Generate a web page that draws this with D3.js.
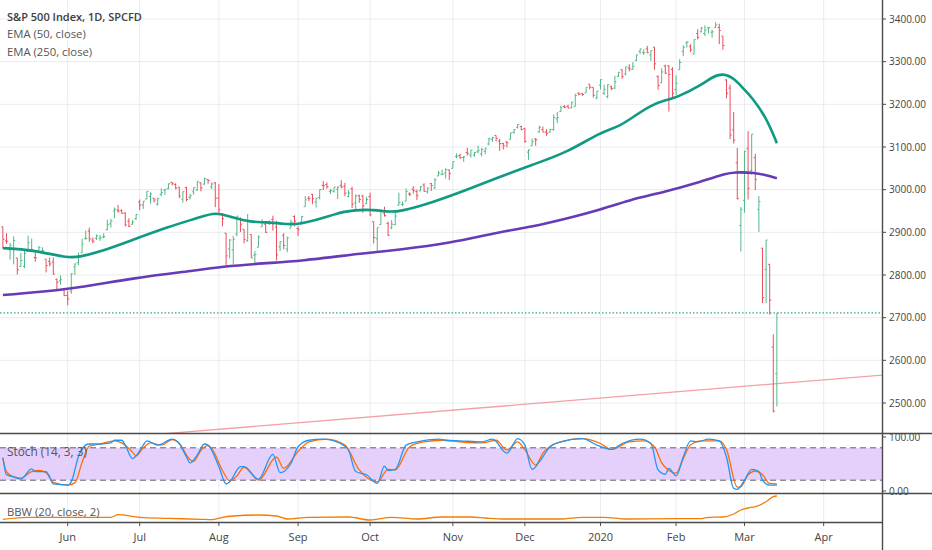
<!DOCTYPE html>
<html>
<head>
<meta charset="utf-8">
<script src="https://cdn.jsdelivr.net/npm/d3@7"></script>
<style>
  body { margin: 0; background: #fff; }
  svg { display: block; font-family: "Open Sans", sans-serif; }
</style>
</head>
<body>
<svg id="chart" width="932" height="550"></svg>
<script>
// daily bars 7 May 2019 .. 13 Mar 2020, [open, high, low, close]
const ohlc = [
  // May
  [2913,2913,2862,2884],[2880,2898,2873,2879],[2859,2875,2836,2870],[2863,2891,2825,2881],
  [2840,2840,2801,2812],[2820,2852,2820,2834],[2820,2858,2816,2851],[2855,2892,2855,2876],
  [2858,2885,2854,2860],[2841,2853,2831,2840],[2855,2868,2855,2864],[2856,2865,2851,2857],
  [2837,2837,2806,2822],[2832,2841,2820,2826],[2830,2841,2801,2802],[2790,2792,2767,2783],
  [2786,2799,2777,2789],[2767,2768,2750,2752],
  // Jun
  [2752,2763,2729,2744],[2762,2804,2756,2803],[2819,2827,2800,2826],[2829,2852,2823,2843],
  [2852,2885,2852,2873],[2885,2904,2883,2886],[2903,2911,2878,2885],[2882,2888,2874,2879],
  [2886,2895,2882,2892],[2886,2894,2880,2887],[2889,2898,2886,2890],[2906,2930,2905,2918],
  [2920,2932,2911,2926],[2950,2958,2933,2954],[2952,2964,2946,2950],[2951,2954,2944,2945],
  [2945,2947,2914,2917],[2926,2933,2912,2914],[2919,2929,2918,2924],[2932,2943,2929,2942],
  // Jul
  [2971,2977,2952,2964],[2964,2973,2955,2973],[2978,2996,2978,2996],[2984,2994,2967,2990],
  [2980,2980,2970,2976],[2966,2981,2963,2979],[2989,3003,2985,2993],[2999,3002,2988,3000],
  [3003,3014,3001,3014],[3017,3018,3010,3014],[3012,3015,3001,3004],[3006,3006,2980,2985],
  [2978,2996,2970,2995],[3005,3007,2973,2977],[2982,2990,2977,2986],[2995,3005,2988,3005],
  [2999,3019,2997,3019],[3016,3017,2996,3004],[3013,3028,3012,3026],[3024,3025,3014,3021],
  [3007,3017,3001,3013],[3016,3018,2959,2980],
  // Aug
  [2980,3013,2945,2953],[2943,2945,2914,2932],[2898,2898,2823,2845],[2861,2884,2839,2882],
  [2859,2892,2825,2884],[2896,2938,2891,2938],[2930,2935,2901,2919],[2907,2907,2874,2883],
  [2880,2943,2878,2926],[2895,2895,2840,2840],[2846,2856,2826,2848],[2865,2893,2865,2889],
  [2913,2931,2913,2924],[2919,2923,2899,2900],[2922,2928,2917,2924],[2930,2939,2904,2922],
  [2912,2927,2834,2847],[2866,2879,2856,2878],[2893,2898,2860,2869],[2861,2890,2853,2887],
  [2910,2930,2910,2924],[2937,2940,2914,2926],
  // Sep
  [2909,2914,2891,2906],[2924,2938,2921,2937],[2960,2985,2960,2976],[2980,2985,2973,2979],
  [2989,2990,2966,2979],[2971,2980,2958,2980],[2982,3000,2977,3000],[3010,3020,2999,3009],
  [3012,3017,3002,3007],[2996,3002,2990,2998],[2996,3006,2993,3006],[3001,3008,2978,3006],
  [3010,3022,3003,3006],[3008,3016,2985,2992],[2984,2999,2982,2992],[3002,3007,2957,2966],
  [2969,2989,2952,2985],[2986,2988,2969,2977],[2985,2988,2946,2962],[2967,2983,2967,2977],
  // Oct
  [2984,2993,2938,2941],[2925,2925,2874,2888],[2885,2911,2856,2911],[2918,2953,2918,2952],
  [2945,2960,2937,2939],[2921,2925,2892,2893],[2911,2929,2907,2919],[2918,2948,2917,2938],
  [2964,2993,2963,2970],[2965,2972,2962,2966],[2973,3003,2973,2996],[2990,2994,2985,2989],
  [3001,3008,2991,2998],[2996,3000,2976,2986],[2997,3008,2997,3007],[3011,3015,2995,2996],
  [2995,3005,2991,3004],[3014,3016,2997,3010],[3004,3027,3002,3023],[3032,3044,3032,3039],
  [3036,3047,3034,3036],[3039,3050,3026,3047],[3046,3047,3023,3038],
  // Nov
  [3050,3066,3050,3066],[3078,3085,3074,3078],[3080,3084,3072,3075],[3075,3079,3065,3077],
  [3087,3098,3080,3085],[3081,3093,3075,3093],[3081,3088,3077,3087],[3089,3103,3085,3092],
  [3084,3098,3078,3094],[3090,3098,3083,3097],[3107,3121,3104,3120],[3118,3124,3112,3122],
  [3127,3127,3113,3120],[3114,3119,3091,3108],[3108,3110,3094,3103],[3112,3113,3099,3110],
  [3118,3133,3118,3133],[3134,3142,3131,3141],[3146,3154,3143,3153],[3148,3150,3139,3141],
  // Dec
  [3143,3145,3110,3113],[3088,3094,3070,3093],[3103,3120,3103,3113],[3119,3120,3103,3117],
  [3135,3150,3134,3146],[3141,3148,3135,3135],[3135,3142,3126,3132],[3135,3143,3133,3141],
  [3141,3176,3138,3169],[3166,3182,3156,3169],[3183,3197,3183,3192],[3195,3198,3191,3193],
  [3195,3199,3191,3191],[3192,3206,3191,3205],[3195,3225,3195,3221],[3226,3228,3221,3224],
  [3225,3226,3220,3223],[3227,3240,3227,3240],[3247,3247,3235,3240],[3240,3240,3216,3221],
  [3215,3231,3212,3231],
  // Jan
  [3245,3258,3235,3258],[3226,3246,3222,3235],[3218,3247,3214,3246],[3241,3244,3233,3237],
  [3238,3267,3236,3253],[3266,3275,3264,3275],[3281,3282,3260,3265],[3271,3288,3268,3288],
  [3285,3294,3277,3283],[3282,3299,3281,3289],[3303,3316,3302,3316],[3324,3330,3318,3330],
  [3321,3329,3316,3321],[3330,3337,3320,3321],[3316,3326,3302,3326],[3334,3334,3281,3295],
  [3265,3268,3234,3244],[3250,3285,3250,3276],[3290,3293,3271,3273],[3290,3292,3183,3270],
  [3282,3287,3214,3226],
  // Feb
  [3235,3268,3222,3249],[3281,3306,3281,3298],[3324,3338,3313,3334],[3344,3348,3333,3346],
  [3335,3341,3322,3328],[3318,3352,3317,3352],[3366,3376,3352,3357],[3370,3381,3369,3379],
  [3366,3385,3360,3374],[3379,3381,3366,3380],[3369,3375,3356,3370],[3380,3393,3379,3386],
  [3380,3389,3341,3373],[3360,3360,3328,3338],[3257,3259,3214,3226],[3238,3246,3118,3128],
  [3140,3182,3108,3116],[3063,3098,2977,2979],[2916,2959,2855,2954],
  // Mar
  [2975,3091,2946,3090],[3096,3137,2977,3003],[3045,3130,3035,3130],[3075,3084,2999,3024],
  [2954,2985,2901,2972],[2863,2863,2734,2747],[2813,2882,2734,2882],[2825,2825,2707,2741],
  [2631,2661,2478,2481],[2569,2711,2492,2711]
];

// month labels and the bar index they sit on (Apr is in the empty space on the right)
const monthLabels = ["Jun", "Jul", "Aug", "Sep", "Oct", "Nov", "Dec", "2020", "Feb", "Mar", "Apr"];
const monthBars = [18, 38, 60, 82, 102, 125, 145, 166, 187, 206, 228];
const priceTicks = [2500, 2600, 2700, 2800, 2900, 3000, 3100, 3200, 3300, 3400];

// [bar index, value]
const ema50 = [[0,2863],[8,2859],[18,2840],[21,2842],[27,2854],[36,2882],[46,2913],[55,2936],
  [59,2948],[64,2934],[69,2924],[73,2924],[78,2920],[82,2917],[92,2941],[94,2948],[101,2955],
  [107,2948],[110,2948],[119,2969],[129,3000],[138,3030],[147,3058],[157,3088],[166,3135],
  [171,3147],[175,3170],[180,3198],[184,3210],[187,3215],[194,3245],[197,3264],[200,3273],
  [203,3262],[206,3234],[208,3217],[212,3170],[215,3109]];
const ema250 = [[0,2753],[18,2765],[36,2793],[55,2812],[60,2819],[73,2828],[82,2832],[101,2852],
  [110,2859],[124,2874],[138,2901],[147,2913],[157,2933],[166,2953],[174,2976],[184,2995],
  [194,3019],[201,3038],[203,3041],[209,3040],[212,3034],[215,3027]];
const stochK = [[0,62],[1,30],[3,26],[5,22],[8,41],[9,36],[12,36],[13,26],[14,13],[18,11],[19,17],
  [21,64],[23,85],[24,87],[27,87],[30,89],[31,94],[33,94],[34,85],[36,60],[37,65],[39,85],[40,93],
  [43,85],[44,87],[47,96],[49,88],[51,63],[52,52],[54,67],[56,87],[57,85],[60,45],[62,13],[63,17],
  [66,45],[67,45],[71,22],[75,68],[77,34],[80,51],[82,82],[85,94],[89,96],[95,83],[96,76],[98,36],
  [101,30],[104,14],[106,46],[107,38],[109,40],[112,85],[115,91],[121,96],[123,94],[127,93],
  [133,91],[136,96],[140,70],[143,97],[145,85],[147,40],[149,54],[152,82],[155,91],[161,97],
  [165,85],[169,77],[172,88],[177,96],[180,88],[182,39],[184,31],[185,42],[187,28],[189,63],
  [191,93],[193,91],[196,96],[199,93],[201,63],[203,5],[204,3],[206,20],[208,40],[210,36],
  [211,20],[213,11],[215,11]];
const stochD = [[0,61],[1,36],[3,26],[5,24],[8,36],[10,38],[12,34],[14,16],[18,11],[20,15],
  [22,53],[24,83],[27,87],[31,93],[33,89],[36,72],[37,65],[39,80],[41,89],[44,85],[47,95],
  [49,88],[52,58],[53,55],[55,75],[57,84],[58,79],[61,38],[63,19],[65,28],[67,44],[71,20],
  [76,63],[78,42],[82,73],[85,91],[90,96],[95,85],[99,39],[104,17],[107,40],[109,39],[113,82],
  [117,91],[122,94],[127,91],[133,89],[137,94],[140,76],[143,91],[145,76],[148,48],[150,70],
  [154,89],[161,97],[166,88],[169,77],[174,91],[178,93],[181,82],[183,52],[185,38],[187,33],
  [189,60],[191,85],[194,93],[199,93],[201,77],[204,7],[205,8],[207,30],[209,37],[211,30],
  [213,14],[215,13]];
const bbw = [[0,0.037],[7,0.057],[30,0.057],[32,0.083],[38,0.057],[46,0.047],[55,0.037],
  [58,0.033],[61,0.057],[64,0.07],[71,0.08],[76,0.07],[79,0.04],[85,0.057],[96,0.06],[102,0.03],
  [108,0.057],[115,0.04],[122,0.06],[130,0.06],[134,0.05],[139,0.04],[155,0.04],[161,0.057],
  [167,0.057],[173,0.04],[187,0.043],[194,0.043],[196,0.057],[200,0.06],[203,0.09],[205,0.13],
  [207,0.15],[209,0.163],[212,0.213],[214,0.263],[215,0.27]];
// hand-drawn trend line, two anchors [bar index, price]
const trendLine = [[0, 2397], [245, 2566]];

const upColor = "#53b987", downColor = "#eb4d5c";
const plotRight = 882;
const mainBottom = 433, stochTop = 434, stochBottom = 493, bbwTop = 494, bbwBottom = 522;

const svg = d3.select("#chart");

const x = d3.scaleLinear().domain([-0.8, 244.2]).range([0, plotRight]);
const y = d3.scaleLinear().domain([2500, 3400]).range([403, 19]);
const ys = d3.scaleLinear().domain([0, 100]).range([491, 437]);
const yb = d3.scaleLinear().domain([0, 0.3]).range([523, 493]);

const defs = svg.append("defs");
function clip(id, y0, y1) {
  defs.append("clipPath").attr("id", id)
    .append("rect").attr("x", 0).attr("y", y0).attr("width", plotRight).attr("height", y1 - y0);
}
clip("clipMain", 0, mainBottom);
clip("clipStoch", stochTop, stochBottom);
clip("clipBbw", bbwTop, bbwBottom);

// grid
svg.append("g").selectAll("line").data(monthBars).join("line")
  .attr("x1", d => x(d)).attr("x2", d => x(d))
  .attr("y1", 0).attr("y2", bbwBottom)
  .attr("stroke", "#e8ebef").attr("stroke-width", 1);
svg.append("g").selectAll("line").data(priceTicks).join("line")
  .attr("x1", 0).attr("x2", plotRight)
  .attr("y1", d => y(d)).attr("y2", d => y(d))
  .attr("stroke", "#e8ebef").attr("stroke-width", 1);

// ---- main pane
const main = svg.append("g").attr("clip-path", "url(#clipMain)");

main.append("path")
  .attr("d", d3.line().x(d => x(d[0])).y(d => y(d[1]))(trendLine))
  .attr("fill", "none").attr("stroke", "#f4a0a4").attr("stroke-width", 1.3);

const lastClose = ohlc[ohlc.length - 1][3];
main.append("line")
  .attr("x1", 0).attr("x2", plotRight)
  .attr("y1", y(lastClose)).attr("y2", y(lastClose))
  .attr("stroke", "#3aa58c").attr("stroke-width", 1.2).attr("stroke-dasharray", "1.5,2");

main.append("g").selectAll("path").data(ohlc).join("path")
  .attr("d", (d, i) => {
    const cx = x(i);
    return `M${cx},${y(d[1])}V${y(d[2])}M${cx - 1.6},${y(d[0])}H${cx}M${cx},${y(d[3])}H${cx + 1.6}`;
  })
  .attr("fill", "none")
  .attr("stroke", d => d[3] >= d[0] ? upColor : downColor)
  .attr("stroke-width", 1);

// moving averages: smooth basis curve through the read points
const emaLine = d3.line().x(d => x(d[0])).y(d => y(d[1])).curve(d3.curveBasis);
main.append("path").attr("d", emaLine(ema250))
  .attr("fill", "none").attr("stroke", "#673ab7").attr("stroke-width", 2.6);
main.append("path").attr("d", emaLine(ema50))
  .attr("fill", "none").attr("stroke", "#0f9a82").attr("stroke-width", 2.6);

// legend text
const legend = svg.append("g").attr("fill", "#555");
legend.append("text").attr("x", 7).attr("y", 21)
  .attr("font-size", 11).attr("font-weight", 600).attr("fill", "#3d3d3d")
  .text("S&P 500 Index, 1D, SPCFD");
legend.append("text").attr("x", 7).attr("y", 38).attr("font-size", 11.3).text("EMA (50, close)");
legend.append("text").attr("x", 7).attr("y", 56).attr("font-size", 11.3).text("EMA (250, close)");

// ---- stochastic pane
const lineIdx = d3.line().x(d => x(d[0])).curve(d3.curveMonotoneX);
const stoch = svg.append("g").attr("clip-path", "url(#clipStoch)");
stoch.append("rect")
  .attr("x", 0).attr("width", plotRight)
  .attr("y", ys(80)).attr("height", ys(20) - ys(80))
  .attr("fill", "#e5d0fb");
stoch.append("g").selectAll("line").data([80, 20]).join("line")
  .attr("x1", 0).attr("x2", plotRight)
  .attr("y1", d => ys(d)).attr("y2", d => ys(d))
  .attr("stroke", "#5d606b").attr("stroke-width", 1).attr("stroke-dasharray", "6,4");
stoch.append("path").attr("d", lineIdx.y(d => ys(d[1]))(stochD))
  .attr("fill", "none").attr("stroke", "#ff6d00").attr("stroke-width", 1.3);
stoch.append("path").attr("d", lineIdx.y(d => ys(d[1]))(stochK))
  .attr("fill", "none").attr("stroke", "#2196f3").attr("stroke-width", 1.3);
svg.append("text").attr("x", 7).attr("y", 456).attr("font-size", 11.8).attr("fill", "#555")
  .text("Stoch (14, 3, 3)");

// ---- BBW pane
const bb = svg.append("g").attr("clip-path", "url(#clipBbw)");
bb.append("path").attr("d", lineIdx.y(d => yb(d[1]))(bbw))
  .attr("fill", "none").attr("stroke", "#f57c00").attr("stroke-width", 1.3);
svg.append("text").attr("x", 7).attr("y", 516).attr("font-size", 11.3).attr("fill", "#555")
  .text("BBW (20, close, 2)");

// ---- right price axis
const axisColor = "#4a4a4a";
const priceAxis = svg.append("g");
priceAxis.selectAll("line").data(priceTicks).join("line")
  .attr("x1", plotRight).attr("x2", plotRight + 4)
  .attr("y1", d => y(d)).attr("y2", d => y(d))
  .attr("stroke", axisColor);
priceAxis.selectAll("text").data(priceTicks).join("text")
  .attr("x", plotRight + 7).attr("y", d => y(d)).attr("dy", "0.35em")
  .attr("font-size", 10).attr("fill", "#444")
  .text(d => d3.format(".2f")(d));

const stochAxis = svg.append("g");
stochAxis.selectAll("line").data([100, 0]).join("line")
  .attr("x1", plotRight).attr("x2", plotRight + 4)
  .attr("y1", d => ys(d)).attr("y2", d => ys(d))
  .attr("stroke", axisColor);
stochAxis.selectAll("text").data([100, 0]).join("text")
  .attr("x", plotRight + 7).attr("y", d => ys(d)).attr("dy", "0.35em")
  .attr("font-size", 10).attr("fill", "#444")
  .text(d => d3.format(".2f")(d));

// ---- time axis
const timeAxis = svg.append("g");
timeAxis.selectAll("line").data(monthBars).join("line")
  .attr("x1", d => x(d)).attr("x2", d => x(d))
  .attr("y1", bbwBottom).attr("y2", bbwBottom + 4)
  .attr("stroke", axisColor);
timeAxis.selectAll("text").data(monthBars).join("text")
  .attr("x", d => x(d)).attr("y", 537).attr("dy", "0.35em")
  .attr("text-anchor", "middle").attr("font-size", 11).attr("fill", "#444")
  .text((d, i) => monthLabels[i]);

// pane separators and axis border
svg.append("g").selectAll("line").data([mainBottom + 0.5, stochBottom + 0.5]).join("line")
  .attr("x1", 0).attr("x2", 932).attr("y1", d => d).attr("y2", d => d)
  .attr("stroke", axisColor).attr("stroke-width", 1.6);
svg.append("line").attr("x1", 0).attr("x2", plotRight)
  .attr("y1", bbwBottom + 0.5).attr("y2", bbwBottom + 0.5)
  .attr("stroke", axisColor).attr("stroke-width", 1.6);
svg.append("line").attr("x1", plotRight + 0.5).attr("x2", plotRight + 0.5)
  .attr("y1", 0).attr("y2", 550)
  .attr("stroke", axisColor).attr("stroke-width", 1.4);
</script>
</body>
</html>
